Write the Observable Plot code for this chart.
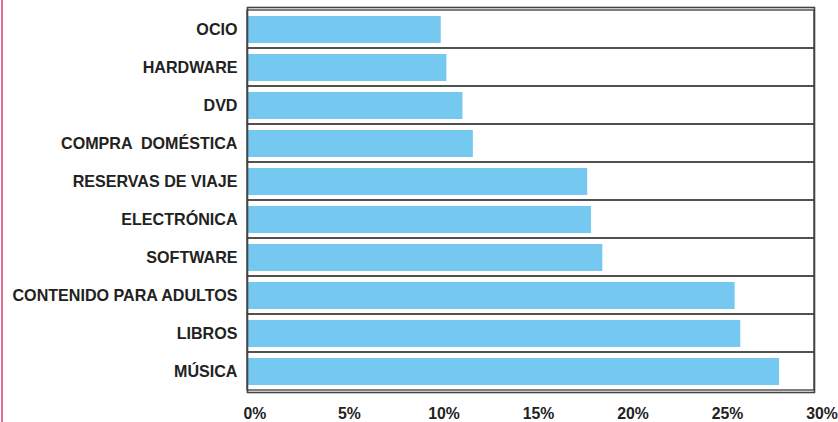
<!DOCTYPE html>
<html>
<head>
<meta charset="utf-8">
<script src="https://cdn.jsdelivr.net/npm/d3@7"></script>
<script src="https://cdn.jsdelivr.net/npm/@observablehq/plot@0.6"></script>
<style>
  html, body { margin: 0; padding: 0; background: #fff; }
  #wrap { position: relative; width: 838px; height: 422px; overflow: hidden; }
  #edge { position: absolute; left: 1px; top: 0; width: 2px; height: 422px; background: #e26c8c; }
  svg { font-family: "Liberation Sans", Arial, Helvetica, sans-serif; }
</style>
</head>
<body>
<div id="wrap"><div id="edge"></div></div>
<script>
const categories = ["OCIO", "HARDWARE", "DVD", "COMPRA  DOMÉSTICA", "RESERVAS DE VIAJE", "ELECTRÓNICA", "SOFTWARE", "CONTENIDO PARA ADULTOS", "LIBROS", "MÚSICA"];
const values = [10.25, 10.55, 11.4, 11.95, 18.0, 18.2, 18.8, 25.8, 26.1, 28.15];
const xTicks = [0, 5, 10, 15, 20, 25, 30];

const data = categories.map((c, i) => ({category: c, value: values[i]}));

const chart = Plot.plot({
  width: 838,
  height: 422,
  marginTop: 7,
  marginBottom: 30,
  marginLeft: 247,
  marginRight: 24,
  style: {fontSize: "16.1px", fontWeight: "bold", color: "#222", background: "transparent"},
  x: {domain: [0, 30], ticks: xTicks, tickFormat: d => d + "%", label: null},
  y: {domain: categories, padding: 0, label: null},
  marks: [
    Plot.barX(data, {
      x1: 0, x2: 30, y: "category",
      fill: "none", stroke: "#3a3a3a", strokeWidth: 1.3
    }),
    Plot.barX(data, {
      x: "value", y: "category",
      fill: "#75c9f1", insetTop: 6, insetBottom: 5
    }),
    Plot.frame({stroke: "#444", strokeWidth: 1.6}),
    Plot.axisX({ticks: xTicks, tickFormat: d => d + "%", tickSize: 0, tickPadding: 15, dx: 7.5, fontSize: 15.8, label: null}),
    Plot.axisY({tickSize: 0, tickPadding: 10, label: null})
  ]
});
document.getElementById("wrap").appendChild(chart);
</script>
</body>
</html>
